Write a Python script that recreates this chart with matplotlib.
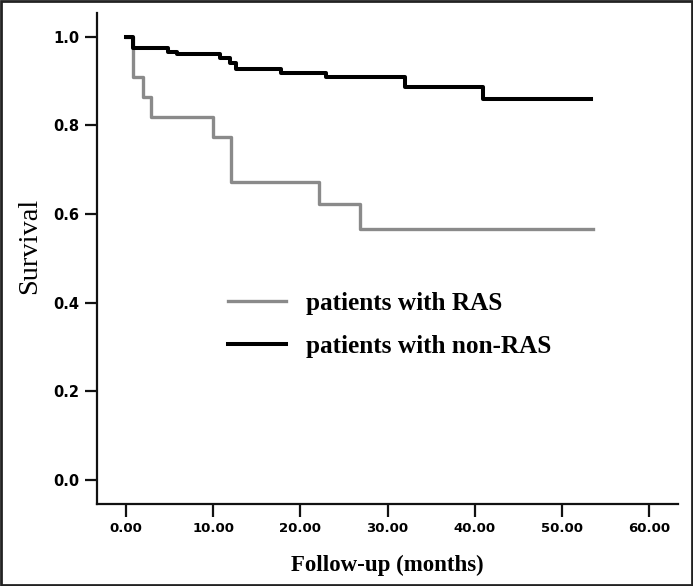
import matplotlib
matplotlib.use("Agg")
import matplotlib.pyplot as plt
from matplotlib.patches import Rectangle

# Kaplan-Meier steps
ras_months = [0, 0.8, 1.9, 2.9, 10.0, 12.0, 22.1, 26.9, 53.6]
ras_surv = [1.0, 0.909, 0.864, 0.818, 0.773, 0.673, 0.622, 0.566, 0.566]

nonras_months = [0, 0.84, 4.85, 5.9, 10.8, 11.9, 12.6, 17.8, 22.9, 32.0, 40.9, 53.4]
nonras_surv = [1.0, 0.975, 0.966, 0.961, 0.952, 0.941, 0.928, 0.919, 0.909, 0.886, 0.860, 0.860]

x_ticks = [0, 10, 20, 30, 40, 50, 60]
x_tick_labels = ["0.00", "10.00", "20.00", "30.00", "40.00", "50.00", "60.00"]
y_ticks = [0.0, 0.2, 0.4, 0.6, 0.8, 1.0]
y_tick_labels = ["0.0", "0.2", "0.4", "0.6", "0.8", "1.0"]

labels = ["patients with RAS", "patients with non-RAS"]

fig = plt.figure(figsize=(6.93, 5.86), dpi=100)
ax = fig.add_axes([0.140, 0.140, 0.838, 0.838])

ax.step(ras_months, ras_surv, where="post", color="#8a8a8a", lw=2.4, label=labels[0])
ax.step(nonras_months, nonras_surv, where="post", color="black", lw=2.9, label=labels[1])

ax.set_xlim(-3.33, 63.3)
ax.set_ylim(-0.054, 1.054)

ax.spines["top"].set_visible(False)
ax.spines["right"].set_visible(False)
for s in ["left", "bottom"]:
    ax.spines[s].set_linewidth(1.6)
    ax.spines[s].set_color("#111111")

ax.set_xticks(x_ticks)
ax.set_xticklabels(x_tick_labels, fontsize=9.5, fontweight="bold", family="DejaVu Sans")
ax.set_yticks(y_ticks)
ax.set_yticklabels(y_tick_labels, fontsize=10.5, fontweight="bold", family="DejaVu Sans")
ax.tick_params(axis="both", direction="out", length=9, width=1.6, color="#111111", pad=4)

ax.set_xlabel("Follow-up (months)", family="Liberation Serif", fontweight="bold",
              fontsize=16.5, labelpad=14)
ax.set_ylabel("Survival", family="Liberation Serif", fontsize=20.5)
ax.yaxis.set_label_coords(-0.095, 0.525)

ax.legend(frameon=False, loc="upper left", bbox_to_anchor=(228 / 693, 1 - 292 / 586),
          bbox_transform=fig.transFigure, borderpad=0, borderaxespad=0,
          handlelength=2.3, handletextpad=0.8, labelspacing=0.8,
          prop={"family": "Liberation Serif", "weight": "bold", "size": 18.2})

# dark frame around the whole picture
fig.patches.append(Rectangle((0.001, 0.001), 0.998, 0.998, transform=fig.transFigure,
                             fill=False, edgecolor="#222222", lw=2))

fig.savefig("out.png", dpi=100)
